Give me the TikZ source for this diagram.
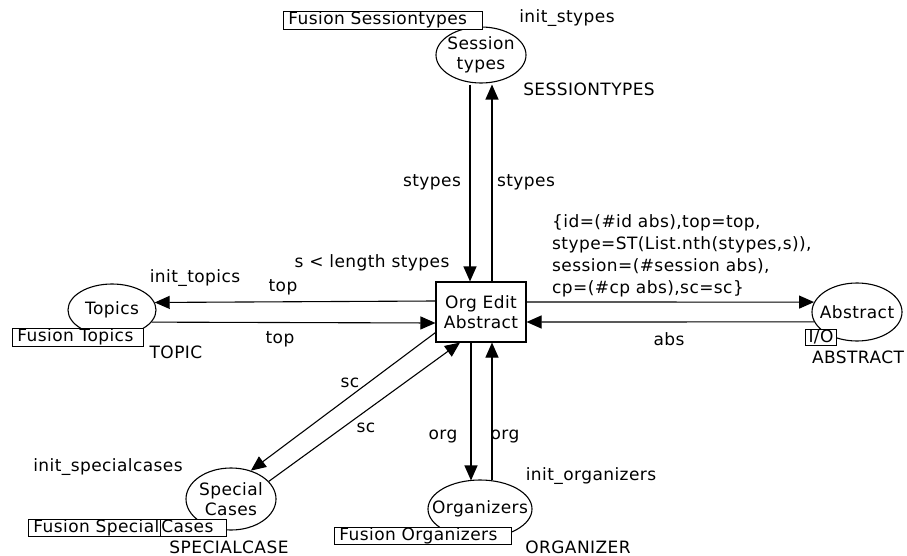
\documentclass[tikz,border=0pt]{standalone}
\usepackage{fontspec}
\setmainfont{DejaVu Sans}[LetterSpace=2.5]
\usetikzlibrary{arrows.meta,shapes.geometric,calc}

\begin{document}
\begin{tikzpicture}[x=1pt,y=-1pt,
  every node/.style={font=\fontsize{17}{20}\selectfont, inner sep=0pt},
  place/.style={draw, ellipse, line width=1.1pt},
  trans/.style={draw, line width=1.1pt, align=center, minimum width=90, minimum height=60},
  arc/.style={line width=1.1pt, -{Triangle[length=15pt,width=13pt]}},
  fusion/.style={draw, fill=white, line width=0.9pt, anchor=west, inner xsep=5pt,
                 inner ysep=0pt, text height=13pt, text depth=4.5pt,
                 text width=#1, align=left},
  port/.style={draw, fill=white, line width=0.9pt, inner xsep=3pt,
               text height=12.5pt, text depth=3pt},
  inscr/.style={align=left}]
\useasboundingbox (0,0) rectangle (907,556);

% places
\node[place, minimum width=90, minimum height=56,
      label={[align=center]center:Session\\types}] (ST) at (481,55) {};
\node[place, minimum width=88, minimum height=52,
      label={center:Topics}] (TP) at (112,310) {};
\node[place, minimum width=90, minimum height=58,
      label={center:Abstract}] (AB) at (857,312) {};
\node[place, minimum width=90, minimum height=62,
      label={[align=center]center:Special\\Cases}] (SC) at (231,499) {};
\node[place, minimum width=104, minimum height=58,
      label={center:Organizers}] (OR) at (480,509) {};

% transition
\node[trans] (T) at (481,312) {Org Edit\\Abstract};

% arcs
\draw[arc] ($(ST.south)+(-11,1)$) -- ($(T.north)+(-11,0)$);
\draw[arc] ($(T.north)+(11,0)$) -- ($(ST.south)+(11,1)$);
\draw[arc] ($(T.west)+(0,-11)$) -- (TP.10);
\draw[arc] (TP.-17) -- ($(T.west)+(0,11)$);
\draw[arc] ($(T.east)+(0,-10)$) -- (AB.167);
\draw[arc] (AB.193) -- ($(T.east)+(0,10)$);
\draw[arc] ($(T.south west)+(0,-10)$) -- (SC.55);
\draw[arc] (SC.25) -- ($(T.south)+(-21,0)$);
\draw[arc] ($(T.south)+(-10,0)$) -- ($(OR.north)+(-9,1)$);
\draw[arc] ($(OR.north)+(12,1)$) -- ($(T.south)+(11,0)$);

% fusion tags and port tag
\node[fusion=189pt] (FST) at (283,20.5) {Fusion Sessiontypes};
\node[fusion=121pt] (FTP) at (12,337.5) {Fusion Topics};
\node[fusion=188pt] (FSC) at (28,528) {Fusion Special\kern0.5pt\vrule height 13pt depth 4.5pt width 0.9pt\kern0.5pt Cases};
\node[fusion=167pt] (FOR) at (334,536) {Fusion Organizers};
\node[port] (IO) at (821,337.5) {I/O};

% initial markings and colour sets
\node (iST) at (567,18) {init\_stypes};
\node (cST) at (589,89) {SESSIONTYPES};
\node (iTP) at (195,278) {init\_topics};
\node (cTP) at (176,352) {TOPIC};
\node (cAB) at (858,357) {ABSTRACT};
\node (iSC) at (108,467) {init\_specialcases};
\node (cSC) at (229,547) {SPECIALCASE};
\node (iOR) at (591,476) {init\_organizers};
\node (cOR) at (578,547) {ORGANIZER};

% arc inscriptions and guard
\node (l1) at (432,182) {stypes};
\node (l2) at (526,182) {stypes};
\node (g)  at (372,263) {s < length stypes};
\node (l3) at (283,287) {top};
\node (l4) at (280,339) {top};
\node[inscr, font=\fontsize{17}{22}\selectfont, anchor=west] (l5) at (552,256)
  {\{id=(\#id abs),top=top,\\stype=ST(List.nth(stypes,s)),\\session=(\#session abs),\\cp=(\#cp abs),sc=sc\}};
\node (l6) at (669,339) {abs};
\node (l7) at (350,383) {sc};
\node (l8) at (366,428) {sc};
\node (l9) at (443,437) {org};
\node (l10) at (505,437) {org};
\end{tikzpicture}
\end{document}
